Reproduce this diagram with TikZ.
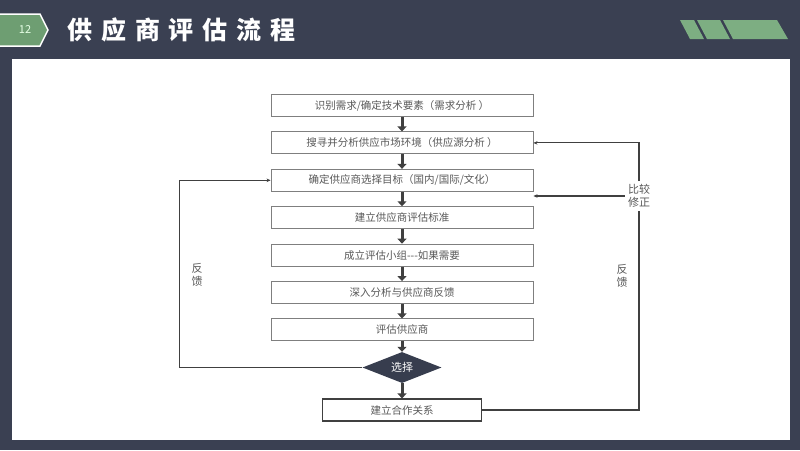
\documentclass[tikz,border=0pt]{standalone}
\usepackage{fontspec}
\setmainfont{Noto Sans CJK SC}
\usepackage{tikz}
\usetikzlibrary{positioning, arrows.meta, shapes.geometric}

\definecolor{slate}{HTML}{3A4052}
\definecolor{tabgreen}{HTML}{6E9E72}
\definecolor{stripegreen}{HTML}{7DAE82}
\definecolor{boxline}{HTML}{7F7F7F}
\definecolor{darkline}{HTML}{404040}
\definecolor{boxtext}{HTML}{595959}

\begin{document}
\begin{tikzpicture}[
    x=1pt, y=-1pt,
    node distance=14.5pt,
    stepbox/.style={rectangle, draw=boxline, line width=0.9pt, fill=white, minimum width=262pt, minimum height=22pt, inner sep=0pt, align=center, text=boxtext, font=\fontsize{10.5}{12}\selectfont},
    choice/.style={diamond, fill=slate!95!black, aspect=2.5, minimum width=79pt, minimum height=31pt, inner sep=0pt, text=white, font=\fontsize{11}{12}\selectfont},
    flow/.style={-{Triangle[width=9pt,length=5pt]}, line width=3pt, darkline},
    fb/.style={line width=1.1pt, darkline},
    fbarrow/.style={-{Stealth[length=4pt,width=3.5pt]}, line width=1.1pt, darkline},
    note/.style={text=boxtext, align=center, font=\fontsize{11}{13}\selectfont},
]
\useasboundingbox (0,0) rectangle (800,450);

% Background and header
\fill[slate] (0,0) rectangle (800,450);
\fill[white] (12,59) rectangle (790,440);
\fill[tabgreen, draw=white, line width=1.5pt] (-5,14) -- (40,14) -- (48,30) -- (40,46) -- (-5,46) -- cycle;
\node[text=green!10!white, font=\fontsize{11}{12}\selectfont] (page) at (25,30) {12};
\node[anchor=west, text=white, font=\fontsize{25}{30}\selectfont\bfseries\addfontfeature{LetterSpace=35}] (title) at (64,30) {供应商评估流程};

% Stripes top right
\fill[stripegreen] (680,20) -- (694,20) -- (704,39) -- (690,39) -- cycle;
\fill[stripegreen] (697,20) -- (720,20) -- (730,39) -- (707,39) -- cycle;
\fill[stripegreen] (723,20) -- (777,20) -- (788,39) -- (733,39) -- cycle;

% Process steps
\node[stepbox] (need) at (402,105.5) {识别需求/确定技术要素（需求分析 ）};
\node[stepbox, below=of need] (search) {搜寻并分析供应市场环境（供应源分析 ）};
\node[stepbox, below=of search] (goal) {确定供应商选择目标（国内/国际/文化）};
\node[stepbox, below=of goal] (criteria) {建立供应商评估标准};
\node[stepbox, below=of criteria] (team) {成立评估小组-{}-{}-如果需要};
\node[stepbox, below=of team] (analysis) {深入分析与供应商反馈};
\node[stepbox, below=of analysis] (evaluate) {评估供应商};

% Decision and result
\node[choice] (choose) at (402,367.5) {选择};
\node[stepbox, draw=darkline, line width=1.2pt, minimum width=159pt] (partner) at (402,410) {建立合作关系};

% Feedback labels
\node[note] (fbleft) at (197,275) {反\\馈};
\node[note] (fbright) at (622,276) {反\\馈};
\node[note, inner sep=3pt] (cmp) at (639,196) {比较\\修正};

%% === Arrows ===
\draw[flow] (need) -- (search);
\draw[flow] (search) -- (goal);
\draw[flow] (goal) -- (criteria);
\draw[flow] (criteria) -- (team);
\draw[flow] (team) -- (analysis);
\draw[flow] (analysis) -- (evaluate);
\draw[flow] (evaluate) -- (choose);
\draw[flow] (choose) -- (partner);

% Left loop: back to target selection
\draw[fbarrow] (choose.west) -- ++(-183,0) |- (goal.west);

% Right loop: compare and revise
\draw[fb] (partner.east) -| (cmp.south);
\draw[fbarrow] (cmp.north) |- (search.east);
\draw[fbarrow] (cmp.west) -- (cmp.west -| goal.east);

\end{tikzpicture}
\end{document}
